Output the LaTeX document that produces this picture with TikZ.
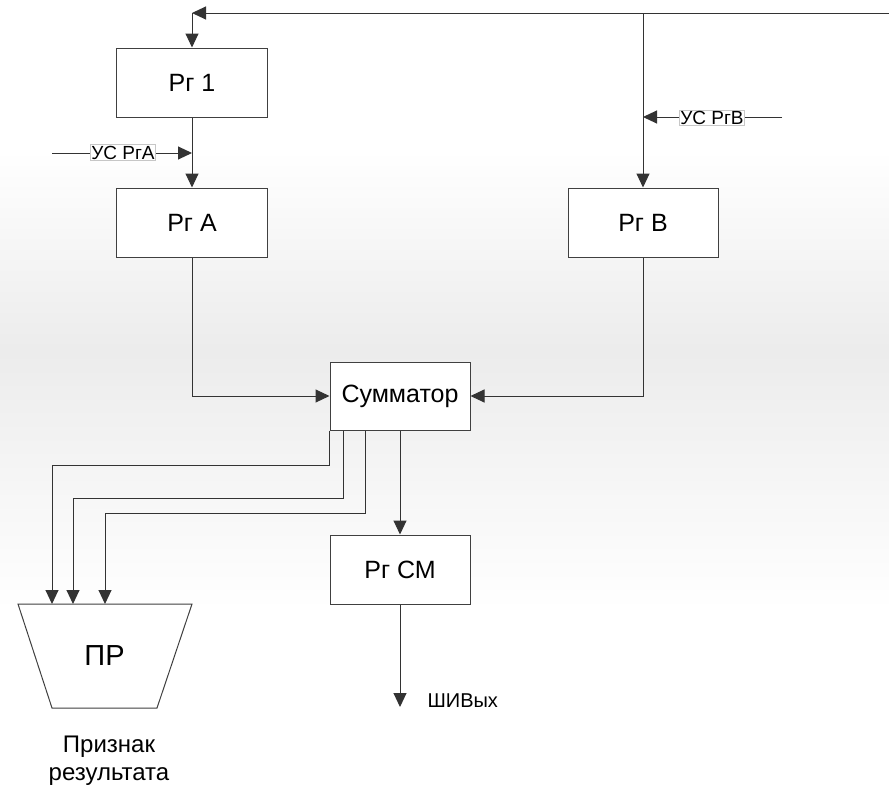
\documentclass[tikz,border=0pt]{standalone}
\usepackage{fontspec}
\setmainfont{Liberation Sans}
\usetikzlibrary{arrows.meta}
\begin{document}
\begin{tikzpicture}[x=1pt,y=-1pt,
  blk/.style={draw=black!75,fill=white,line width=1pt,minimum width=151pt,minimum height=69pt,inner sep=0pt,font=\fontsize{25}{29}\selectfont},
  wire/.style={draw=black!80,line width=1pt},
  arr/.style={wire,-{Triangle[length=14pt,width=13pt]}},
  tag/.style={draw=black!22,fill=white,line width=0.6pt,inner sep=1pt,font=\fontsize{19}{21}\selectfont},
  lbl/.style={font=\fontsize{20}{24}\selectfont}]
\useasboundingbox (0,0) rectangle (889,787);
\fill[white] (0,0) rectangle (889,787);
\shade[top color=white,bottom color=gray!15] (0,150) rectangle (889,350);
\shade[top color=gray!15,bottom color=white] (0,350) rectangle (889,610);

% blocks
\node[blk] (rg1) at (192,82.5) {Рг 1};
\node[blk] (rga) at (192,222.5) {Рг А};
\node[blk,minimum width=150pt] (rgb) at (643,222.5) {Рг В};
\node[blk,minimum width=140pt,minimum height=68pt] (sum) at (400,396) {Сумматор};
\node[blk,minimum width=140pt] (rgcm) at (400,569.5) {Рг СМ};

% PR trapezoid
\draw[draw=black!75,line width=1pt,fill=white] (18,604) -- (192,604) -- (157,708) -- (52,708) -- cycle;
\node[font=\fontsize{29}{33}\selectfont] (pr) at (104.5,656) {ПР};
\node[align=center,font=\fontsize{24}{28}\selectfont] (sign) at (109,761) {Признак\\результата};
\coordinate (p1) at (52,604);
\coordinate (p2) at (73,604);
\coordinate (p3) at (105,604);

% top bus
\coordinate (rin) at (889,13);
\coordinate (tj) at (192,13);
\coordinate (bj) at (643,13);
\draw[arr] (rin) -- (tj);
\draw[arr] (tj) -- (rg1.north);
\draw[arr] (bj) -- (rgb.north);

% control inputs
\coordinate (usb) at (782,117);
\coordinate (usbj) at (643,117);
\draw[arr] (usb) -- (usbj);
\node[tag] (usbl) at (712,118) {УС РгВ};
\coordinate (usa) at (52,153);
\coordinate (usaj) at (192,153);
\draw[arr] (usa) -- (usaj);
\node[tag] (usal) at (123,152.5) {УС РгА};

% data paths
\draw[arr] (rg1) -- (rga);
\draw[arr] (rga.south) |- (sum.west);
\draw[arr] (rgb.south) |- (sum.east);
\draw[arr] (sum.south west) |- (52,465) -- (p1);
\draw[arr] ([xshift=14pt]sum.south west) |- (73,498) -- (p2);
\draw[arr] ([xshift=36pt]sum.south west) |- (105,513) -- (p3);
\draw[arr] (sum.south) -- (rgcm.north);
\coordinate (out) at (400,707);
\draw[arr] (rgcm.south) -- (out);
\node[lbl,anchor=west] (shiv) at (424,701) {ШИВых};
\end{tikzpicture}
\end{document}
